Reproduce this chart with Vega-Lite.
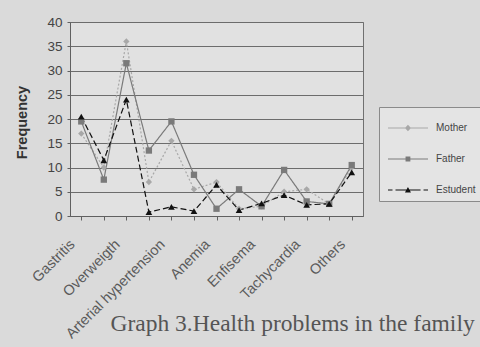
{
  "$schema": "https://vega.github.io/schema/vega-lite/v6.json",
  "width": 293,
  "height": 194,
  "autosize": "none",
  "padding": {"left": 70, "top": 22, "right": 117, "bottom": 131},
  "background": "#dadada",
  "config": {
    "view": {"fill": "#e1e1e1", "stroke": "#707070", "strokeWidth": 1},
    "font": "Liberation Sans"
  },
  "data": {
    "values": [
      {"problem": "Gastritis", "series": "Mother", "value": 17},
      {"problem": "cat2", "series": "Mother", "value": 10},
      {"problem": "Overweigth", "series": "Mother", "value": 36},
      {"problem": "cat4", "series": "Mother", "value": 7},
      {"problem": "Arterial hypertension", "series": "Mother", "value": 15.5},
      {"problem": "cat6", "series": "Mother", "value": 5.5},
      {"problem": "Anemia", "series": "Mother", "value": 7},
      {"problem": "cat8", "series": "Mother", "value": 1.5},
      {"problem": "Enfisema", "series": "Mother", "value": 2},
      {"problem": "cat10", "series": "Mother", "value": 5},
      {"problem": "Tachycardia", "series": "Mother", "value": 5.5},
      {"problem": "cat12", "series": "Mother", "value": 2.5},
      {"problem": "Others", "series": "Mother", "value": 10},
      {"problem": "Gastritis", "series": "Father", "value": 19.5},
      {"problem": "cat2", "series": "Father", "value": 7.5},
      {"problem": "Overweigth", "series": "Father", "value": 31.5},
      {"problem": "cat4", "series": "Father", "value": 13.5},
      {"problem": "Arterial hypertension", "series": "Father", "value": 19.5},
      {"problem": "cat6", "series": "Father", "value": 8.5},
      {"problem": "Anemia", "series": "Father", "value": 1.5},
      {"problem": "cat8", "series": "Father", "value": 5.5},
      {"problem": "Enfisema", "series": "Father", "value": 2},
      {"problem": "cat10", "series": "Father", "value": 9.5},
      {"problem": "Tachycardia", "series": "Father", "value": 3},
      {"problem": "cat12", "series": "Father", "value": 2.5},
      {"problem": "Others", "series": "Father", "value": 10.5},
      {"problem": "Gastritis", "series": "Estudent", "value": 20.5},
      {"problem": "cat2", "series": "Estudent", "value": 11.5},
      {"problem": "Overweigth", "series": "Estudent", "value": 24},
      {"problem": "cat4", "series": "Estudent", "value": 0.8},
      {"problem": "Arterial hypertension", "series": "Estudent", "value": 1.9},
      {"problem": "cat6", "series": "Estudent", "value": 1},
      {"problem": "Anemia", "series": "Estudent", "value": 6.4},
      {"problem": "cat8", "series": "Estudent", "value": 1.2},
      {"problem": "Enfisema", "series": "Estudent", "value": 2.6},
      {"problem": "cat10", "series": "Estudent", "value": 4.3},
      {"problem": "Tachycardia", "series": "Estudent", "value": 2.3},
      {"problem": "cat12", "series": "Estudent", "value": 2.5},
      {"problem": "Others", "series": "Estudent", "value": 9}
    ]
  },
  "encoding": {
    "x": {
      "field": "problem",
      "type": "nominal",
      "sort": null,
      "scale": {"type": "point", "padding": 0.5},
      "axis": {
        "labelAngle": -45,
        "labelAlign": "right",
        "labelBaseline": "middle",
        "labelExpr": "indexof(datum.value, 'cat') === 0 ? '' : datum.value",
        "labelFont": "Liberation Sans",
        "labelFontSize": 14.5,
        "labelColor": "#5a5a5a",
        "labelPadding": 22,
        "labelOffset": -9,
        "domainColor": "#606060",
        "tickColor": "#606060",
        "tickSize": 4,
        "title": "Graph 3.Health problems in the family",
        "titleFont": "Liberation Serif",
        "titleFontSize": 23.5,
        "titleFontWeight": "normal",
        "titleColor": "#555555",
        "titleAlign": "left",
        "titleAnchor": "start",
        "titleBaseline": "alphabetic",
        "titleX": 40,
        "titleY": 114
      }
    },
    "y": {
      "field": "value",
      "type": "quantitative",
      "scale": {"domain": [0, 40]},
      "axis": {
        "values": [0, 5, 10, 15, 20, 25, 30, 35, 40],
        "gridColor": "#6c6c6c",
        "gridWidth": 1,
        "domainColor": "#606060",
        "tickColor": "#606060",
        "tickSize": 3,
        "labelPadding": 5,
        "labelFont": "Liberation Sans",
        "labelFontSize": 13.5,
        "labelColor": "#444444",
        "title": "Frequency",
        "titleFont": "Liberation Sans",
        "titleFontSize": 14.5,
        "titleFontWeight": "bold",
        "titleColor": "#333333",
        "titleAlign": "center",
        "titleBaseline": "middle",
        "titleAngle": -90,
        "titleX": -48,
        "titleY": 100
      }
    },
    "color": {
      "field": "series",
      "type": "nominal",
      "sort": ["Mother", "Father", "Estudent"],
      "scale": {"domain": ["Mother", "Father", "Estudent"], "range": ["#a8a8a8", "#7a7a7a", "#111111"]},
      "legend": {
        "orient": "none",
        "legendX": 309,
        "legendY": 85,
        "title": null,
        "padding": 6,
        "strokeColor": "#8a8a8a",
        "fillColor": "#e4e4e4",
        "symbolSize": 900,
        "rowPadding": 11,
        "labelOffset": 21,
        "labelFont": "Liberation Sans",
        "labelFontSize": 10,
        "labelColor": "#444444",
        "symbolStrokeWidth": 0,
        "encode": {
          "symbols": {
            "update": {
              "shape": {"signal": "datum.label === 'Mother' ? 'M-0.8,-0.035H1.87V0.035H-0.8Z M0.33,0L0.53,-0.22L0.73,0L0.53,0.22Z' : datum.label === 'Father' ? 'M-0.8,-0.035H1.87V0.035H-0.8Z M0.37,-0.16H0.69V0.16H0.37Z' : 'M-0.8,-0.035H-0.5V0.035H-0.8Z M-0.3,-0.035H0.0V0.035H-0.3Z M1.07,-0.035H1.37V0.035H1.07Z M1.57,-0.035H1.87V0.035H1.57Z M0.0,-0.035H1.07V0.035H0.0Z M0.33,0.16L0.53,-0.2L0.73,0.16Z'"},
              "fill": {"scale": "color", "field": "value"},
              "fillOpacity": {"value": 1},
              "strokeWidth": {"value": 0}
            }
          }
        }
      }
    }
  },
  "layer": [
    {
      "mark": {"type": "line", "strokeWidth": 1.2},
      "encoding": {
        "strokeDash": {
          "field": "series",
          "type": "nominal",
          "scale": {"domain": ["Mother", "Father", "Estudent"], "range": [[2, 2], [1, 0], [6, 3]]},
          "legend": null
        }
      }
    },
    {
      "transform": [{"filter": "datum.series === 'Mother'"}],
      "mark": {"type": "point", "filled": true, "opacity": 1, "shape": "diamond", "size": 40}
    },
    {
      "transform": [{"filter": "datum.series === 'Father'"}],
      "mark": {"type": "point", "filled": true, "opacity": 1, "shape": "square", "size": 40}
    },
    {
      "transform": [{"filter": "datum.series === 'Estudent'"}],
      "mark": {"type": "point", "filled": true, "opacity": 1, "shape": "triangle-up", "size": 45}
    }
  ]
}
